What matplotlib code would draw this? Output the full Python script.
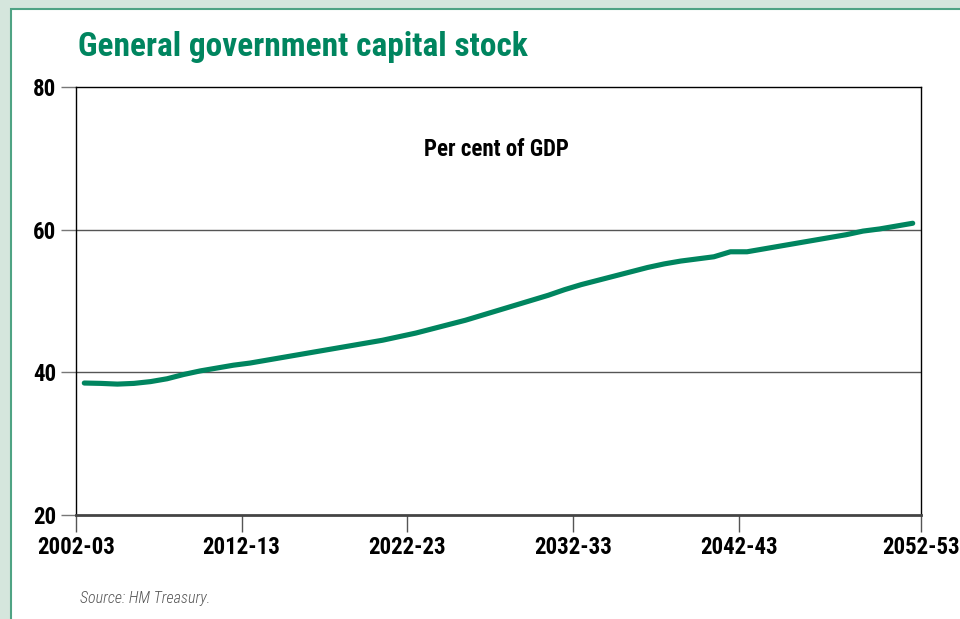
import matplotlib
matplotlib.use("Agg")
import matplotlib.pyplot as plt
from matplotlib import font_manager
from matplotlib.patches import Rectangle

# general government capital stock, per cent of GDP, 2002-03 to 2052-53
years = ["%d-%02d" % (y, (y + 1) % 100) for y in range(2002, 2053)]
capital_stock = [
    38.5, 38.45, 38.35, 38.45, 38.7, 39.1, 39.7, 40.2, 40.6, 41.0,
    41.3, 41.7, 42.1, 42.5, 42.9, 43.3, 43.7, 44.1, 44.5, 45.0,
    45.5, 46.1, 46.7, 47.3, 48.0, 48.7, 49.4, 50.1, 50.8, 51.6,
    52.3, 52.9, 53.5, 54.1, 54.7, 55.2, 55.6, 55.9, 56.2, 56.9,
    56.9, 57.3, 57.7, 58.1, 58.5, 58.9, 59.3, 59.8, 60.1, 60.5,
    60.9,
]
tick_labels = ["2002-03", "2012-13", "2022-23", "2032-33", "2042-43", "2052-53"]
y_ticks = [20, 40, 60, 80]

installed = {f.name for f in font_manager.fontManager.ttflist}
narrow = next((f for f in ["Roboto Condensed", "Liberation Sans Narrow",
                           "Open Sans Condensed"] if f in installed), None)
family = narrow or ("Open Sans" if "Open Sans" in installed else "DejaVu Sans")
plt.rcParams["font.family"] = family
scale = 1.0 if narrow else 0.88

green = "#00855f"

fig = plt.figure(figsize=(9.6, 6.19), dpi=100, facecolor="#d5e6dd")
fig.patches.append(Rectangle((11 / 960, -0.05), 1.1, 1 - 9 / 619 + 0.05,
                             transform=fig.transFigure, facecolor="white",
                             edgecolor="#4fa384", linewidth=1.5, zorder=-5))

ax = fig.add_axes([76 / 960, 1 - 515 / 619, 845 / 960, 428 / 619])
ax.set_zorder(2)
ax.set_facecolor("none")

x = [i + 0.5 for i in range(len(years))]
ax.plot(x, capital_stock, color=green, linewidth=3.7, solid_capstyle="round", zorder=3)

ax.set_xlim(0, len(years))
ax.set_ylim(20, 80)
ax.set_yticks(y_ticks)
ax.set_yticklabels([str(v) for v in y_ticks], fontsize=16.5 * scale, fontweight="bold")
ax.set_xticks([0, 10, 20, 30, 40, len(years)])
ax.set_xticklabels(tick_labels, fontsize=16.5 * scale, fontweight="bold")
ax.tick_params(axis="y", direction="out", length=11, width=1, color="#777777", pad=3)
ax.tick_params(axis="x", direction="out", length=12, width=1, color="#555555", pad=3)

for v in [40, 60]:
    ax.axhline(v, color="#555555", linewidth=1, zorder=1)

for s in ["left", "top", "right"]:
    ax.spines[s].set_color("black")
    ax.spines[s].set_linewidth(1)
ax.spines["bottom"].set_color("#444444")
ax.spines["bottom"].set_linewidth(2)

ax.text(0.497, 0.855, "Per cent of GDP", transform=ax.transAxes, ha="center",
        va="center", fontsize=16.5 * scale, fontweight="bold")

fig.text(78 / 960, 1 - 47 / 619, "General government capital stock", color=green,
         fontsize=24 * scale, fontweight="bold", ha="left", va="center")
fig.text(80 / 960, 1 - 598 / 619, "Source: HM Treasury.", fontsize=11.5,
         style="italic", fontweight="light", color="#555555", ha="left", va="center")

fig.savefig("out.png", dpi=100, facecolor=fig.get_facecolor())
